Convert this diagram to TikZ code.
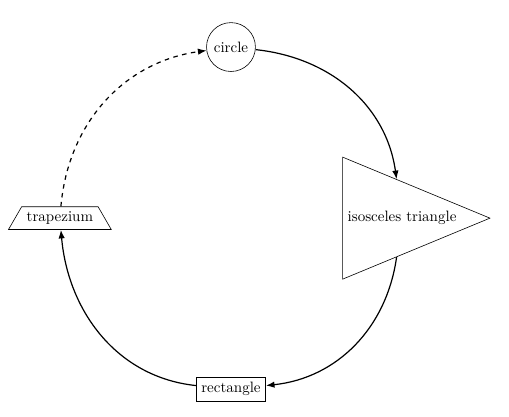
\documentclass[tikz,border=0pt]{standalone}
\usepackage{tikz}
\usetikzlibrary{arrows.meta,shapes.geometric}

\begin{document}
\begin{tikzpicture}[
shapebox/.style={draw,align=center},
arrow/.style={-{Latex[length=2mm]},thick}
]
\useasboundingbox (-5.40,-4.63) rectangle (6.50,5.10);
\node[shapebox,circle] (circ) at (90:4) {circle};
\node[shapebox,isosceles triangle,isosceles triangle apex angle=45] (tri) at (0:4) {isosceles triangle};
\node[shapebox,rectangle] (rect) at (270:4) {rectangle};
\node[shapebox,trapezium] (trap) at (180:4) {trapezium};
\draw[arrow] (circ) to[out=-6,in=98] (tri);
\draw[arrow] (tri) to[out=-98,in=6] (rect);
\draw[arrow] (rect) to[out=174,in=-85] (trap);
\draw[arrow,dashed] (trap) to[out=85,in=-172] (circ);
\end{tikzpicture}
\end{document}
